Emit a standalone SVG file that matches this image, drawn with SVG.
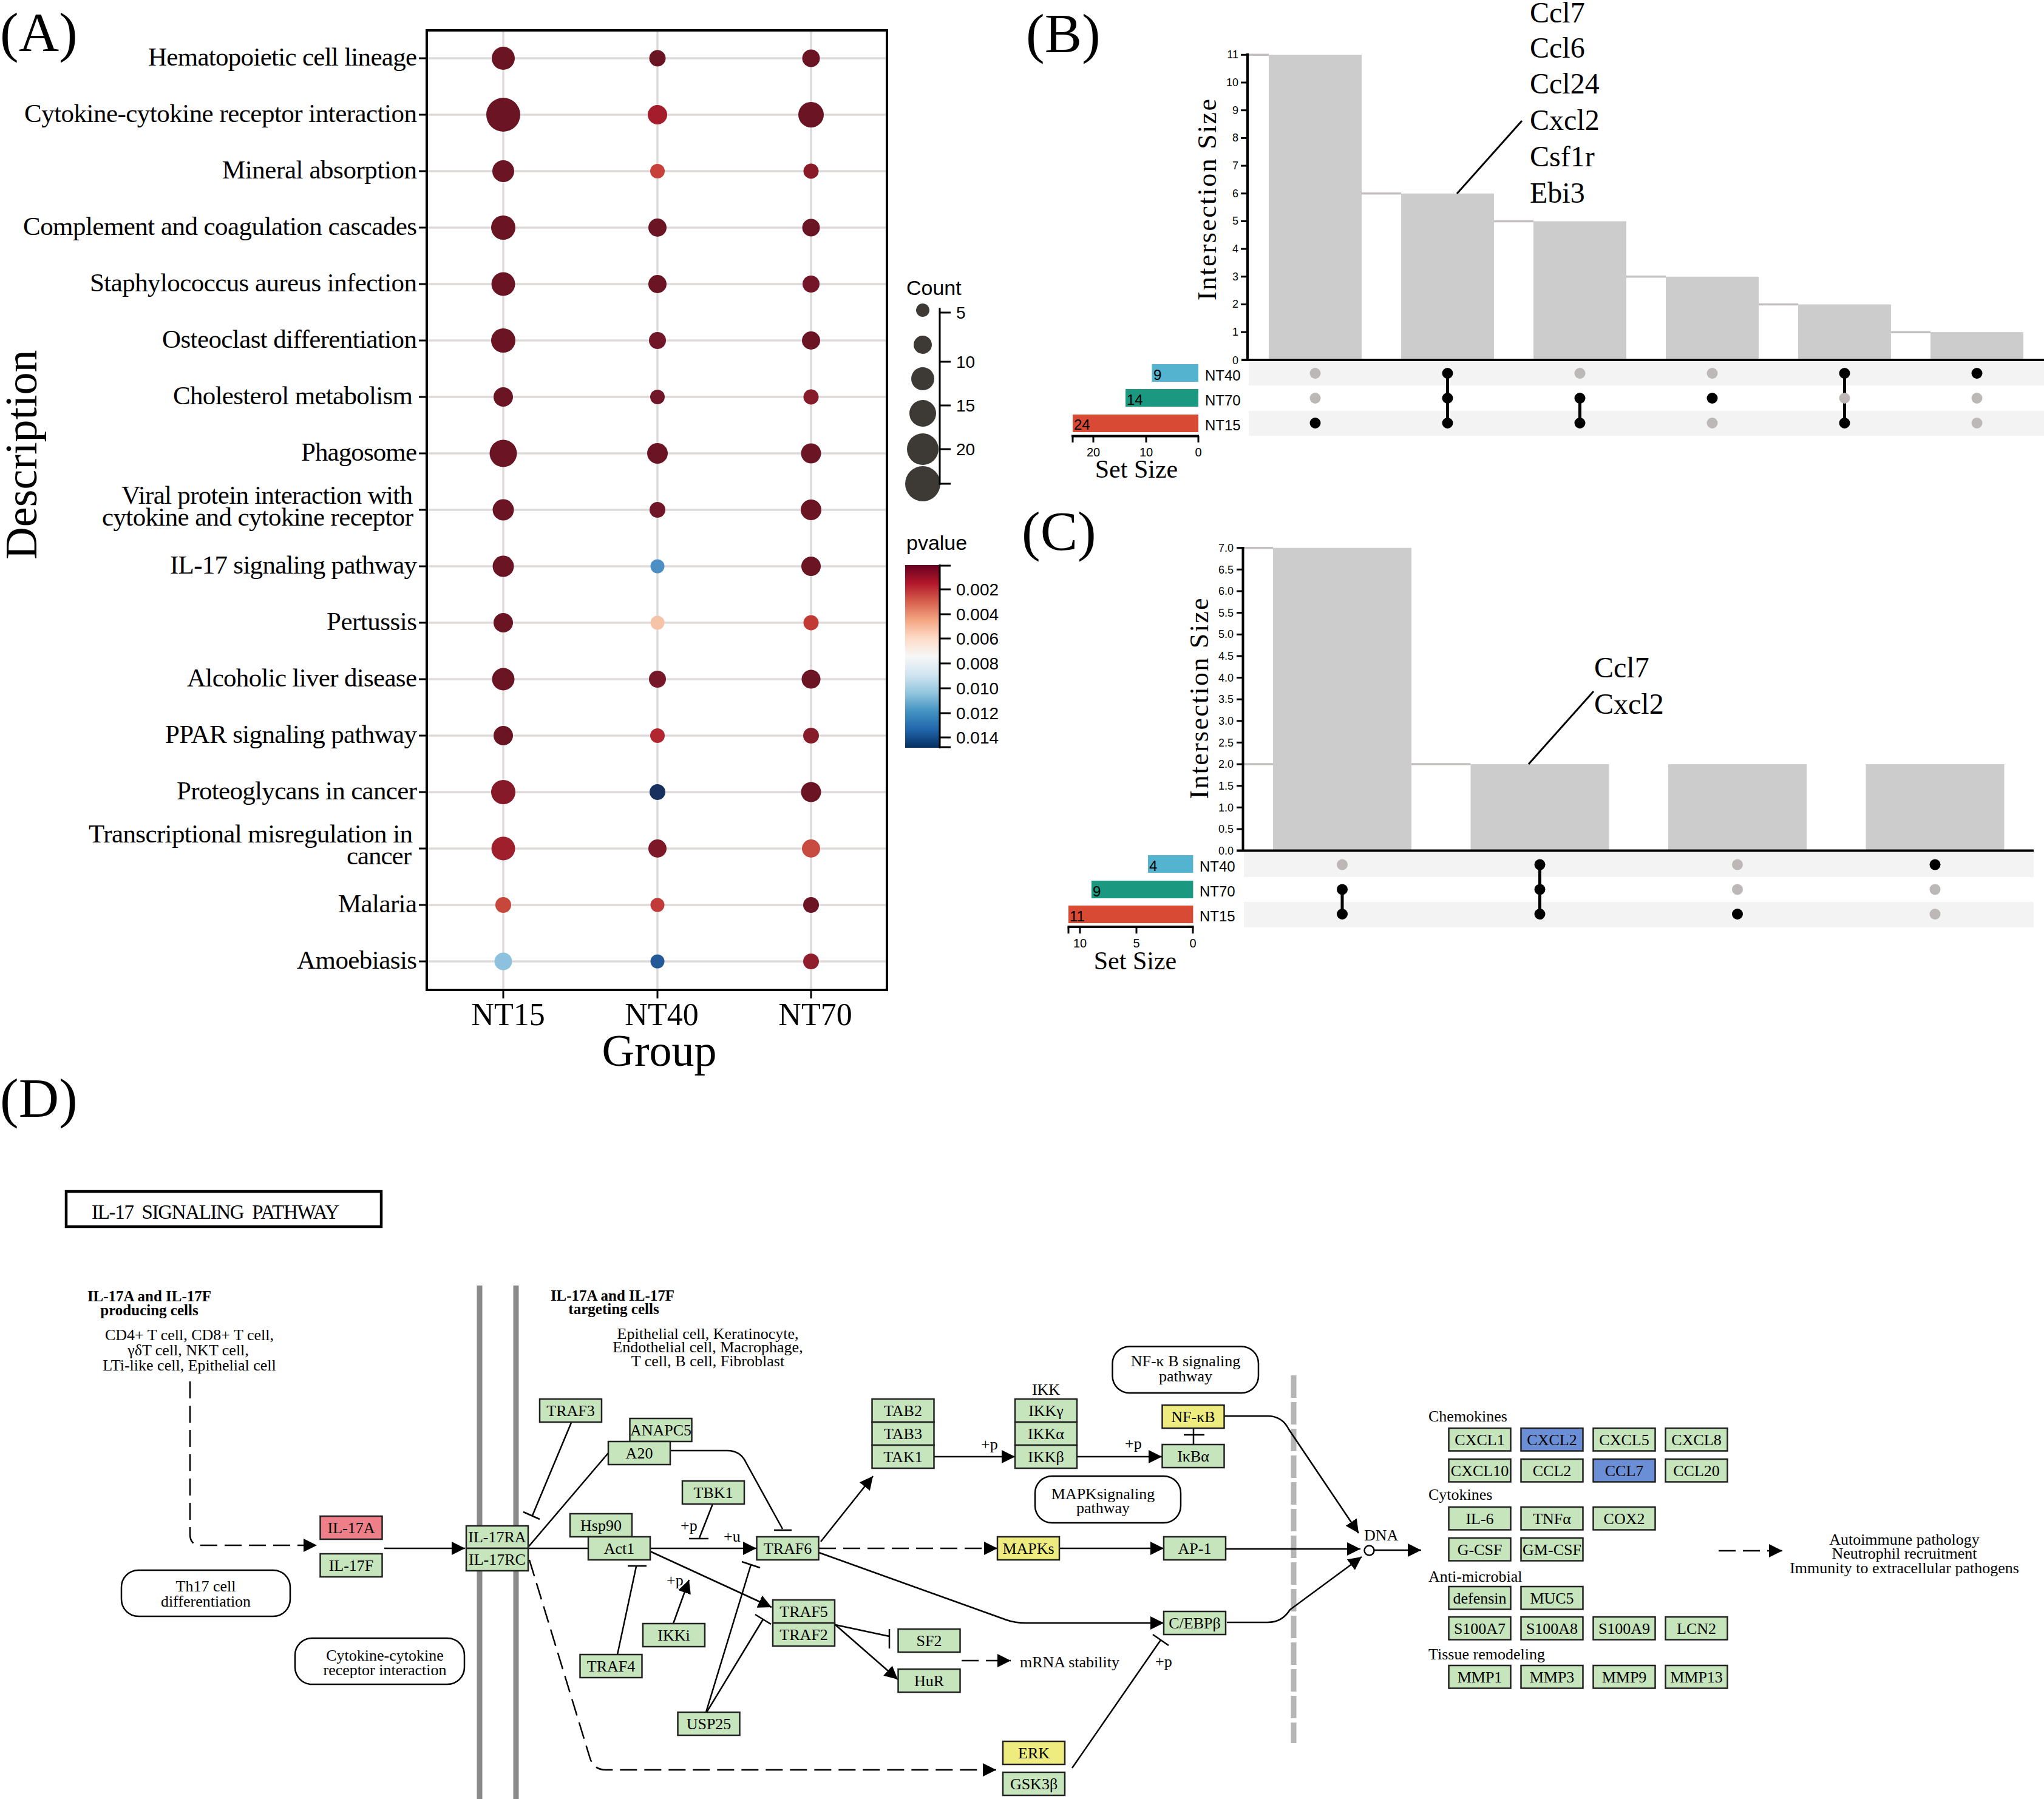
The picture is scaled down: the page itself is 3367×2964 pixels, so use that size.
<svg xmlns="http://www.w3.org/2000/svg" width="3367" height="2964" viewBox="0 0 3367 2964">
<defs>
<style>
.t{font-family:"Liberation Serif","Times New Roman",serif;fill:#000}
.s{font-family:"Liberation Sans",Arial,sans-serif;fill:#000}
.pl{font-family:"Liberation Serif","Times New Roman",serif;font-size:92px}
.rl{font-size:43px;text-anchor:end}
.gl{stroke:#dedada;stroke-width:3.5}
.tk{stroke:#000;stroke-width:3}
.ax{stroke:#000;stroke-width:4}
.bar{fill:#cccccc}
.seg{stroke:#c4c0c0;stroke-width:3.5}
.on{fill:#000}
.off{fill:#bdb8b8}
.cn{stroke:#000;stroke-width:5}
.stripe{fill:#f3f3f3}
.ytl{font-size:18px;text-anchor:end}
.nd rect{fill:#c6e5bc;stroke:#222;stroke-width:2.5}
.nd.y rect{fill:#eeec7e}
.nd.r rect{fill:#ee7f88}
.nd.b rect{fill:#6b8fd6}
.nd text{font-family:"Liberation Serif","Times New Roman",serif;font-size:26px;text-anchor:middle}
.rb rect{fill:#fff;stroke:#000;stroke-width:2.5}
.rb text{font-family:"Liberation Serif","Times New Roman",serif;font-size:26px;text-anchor:middle}
.ln{fill:none;stroke:#000;stroke-width:2.5}
.dash{stroke-dasharray:28 12}
.lab{font-family:"Liberation Serif","Times New Roman",serif;font-size:26px}
.bold{font-family:"Liberation Serif","Times New Roman",serif;font-size:25px;font-weight:bold;text-anchor:middle}
.mid{text-anchor:middle}
</style>
<marker id="ah" markerUnits="userSpaceOnUse" markerWidth="24" markerHeight="22" refX="22" refY="11" orient="auto" viewBox="0 0 24 22"><path d="M0,0 L22,11 L0,22 z" fill="#000"/></marker>
<linearGradient id="rdbu" x1="0" y1="0" x2="0" y2="1">
<stop offset="0" stop-color="#67001f"/><stop offset="0.1" stop-color="#b2182b"/><stop offset="0.2" stop-color="#d6604d"/><stop offset="0.3" stop-color="#f4a582"/><stop offset="0.4" stop-color="#fddbc7"/><stop offset="0.5" stop-color="#f7f7f7"/><stop offset="0.6" stop-color="#d1e5f0"/><stop offset="0.7" stop-color="#92c5de"/><stop offset="0.8" stop-color="#4393c3"/><stop offset="0.9" stop-color="#2166ac"/><stop offset="1" stop-color="#053061"/>
</linearGradient>
</defs>
<rect width="3367" height="2964" fill="#fff"/>

<!-- ================= PANEL A ================= -->
<g id="panelA">
<text class="pl" x="0" y="84">(A)</text>
<g id="A-grid">
<line class="gl" x1="829" y1="52" x2="829" y2="1629"/><line class="gl" x1="1083" y1="52" x2="1083" y2="1629"/><line class="gl" x1="1336" y1="52" x2="1336" y2="1629"/>
<line class="gl" x1="705" y1="96" x2="1459" y2="96"/><line class="gl" x1="705" y1="189" x2="1459" y2="189"/><line class="gl" x1="705" y1="282" x2="1459" y2="282"/><line class="gl" x1="705" y1="375" x2="1459" y2="375"/><line class="gl" x1="705" y1="468" x2="1459" y2="468"/><line class="gl" x1="705" y1="561" x2="1459" y2="561"/><line class="gl" x1="705" y1="654" x2="1459" y2="654"/><line class="gl" x1="705" y1="747" x2="1459" y2="747"/><line class="gl" x1="705" y1="840" x2="1459" y2="840"/><line class="gl" x1="705" y1="933" x2="1459" y2="933"/><line class="gl" x1="705" y1="1026" x2="1459" y2="1026"/><line class="gl" x1="705" y1="1119" x2="1459" y2="1119"/><line class="gl" x1="705" y1="1212" x2="1459" y2="1212"/><line class="gl" x1="705" y1="1305" x2="1459" y2="1305"/><line class="gl" x1="705" y1="1398" x2="1459" y2="1398"/><line class="gl" x1="705" y1="1491" x2="1459" y2="1491"/><line class="gl" x1="705" y1="1584" x2="1459" y2="1584"/>
</g>
<rect x="703" y="50" width="758" height="1581" fill="none" stroke="#000" stroke-width="4"/>
<g id="A-ticks" class="tk">
<line x1="690" y1="96" x2="703" y2="96"/><line x1="690" y1="189" x2="703" y2="189"/><line x1="690" y1="282" x2="703" y2="282"/><line x1="690" y1="375" x2="703" y2="375"/><line x1="690" y1="468" x2="703" y2="468"/><line x1="690" y1="561" x2="703" y2="561"/><line x1="690" y1="654" x2="703" y2="654"/><line x1="690" y1="747" x2="703" y2="747"/><line x1="690" y1="840" x2="703" y2="840"/><line x1="690" y1="933" x2="703" y2="933"/><line x1="690" y1="1026" x2="703" y2="1026"/><line x1="690" y1="1119" x2="703" y2="1119"/><line x1="690" y1="1212" x2="703" y2="1212"/><line x1="690" y1="1305" x2="703" y2="1305"/><line x1="690" y1="1398" x2="703" y2="1398"/><line x1="690" y1="1491" x2="703" y2="1491"/><line x1="690" y1="1584" x2="703" y2="1584"/>
<line x1="829" y1="1631" x2="829" y2="1645"/><line x1="1083" y1="1631" x2="1083" y2="1645"/><line x1="1336" y1="1631" x2="1336" y2="1645"/>
</g>
<g id="A-labels" class="t rl">
<text x="687" y="108" textLength="443">Hematopoietic cell lineage</text>
<text x="687" y="201" textLength="647">Cytokine-cytokine receptor interaction</text>
<text x="687" y="294" textLength="321">Mineral absorption</text>
<text x="687" y="387" textLength="649">Complement and coagulation cascades</text>
<text x="687" y="480" textLength="539">Staphylococcus aureus infection</text>
<text x="687" y="573" textLength="420">Osteoclast differentiation</text>
<text x="680" y="666" textLength="395">Cholesterol metabolism</text>
<text x="687" y="759" textLength="191">Phagosome</text>
<text x="680" y="830" textLength="480">Viral protein interaction with</text>
<text x="681" y="866" textLength="513">cytokine and cytokine receptor</text>
<text x="687" y="945" textLength="407">IL-17 signaling pathway</text>
<text x="687" y="1038" textLength="149">Pertussis</text>
<text x="687" y="1131" textLength="379">Alcoholic liver disease</text>
<text x="687" y="1224" textLength="415">PPAR signaling pathway</text>
<text x="687" y="1317" textLength="396">Proteoglycans in cancer</text>
<text x="680" y="1388" textLength="534">Transcriptional misregulation in</text>
<text x="678" y="1424" textLength="107">cancer</text>
<text x="687" y="1503" textLength="130">Malaria</text>
<text x="687" y="1596" textLength="198">Amoebiasis</text>
</g>
<g id="A-dots">
<circle cx="829" cy="96" r="19" fill="#6a1424"/><circle cx="1083" cy="96" r="13.5" fill="#6a1424"/><circle cx="1336" cy="96" r="14.5" fill="#6a1424"/>
<circle cx="829" cy="189" r="28" fill="#6a1424"/><circle cx="1083" cy="189" r="16" fill="#a51d2d"/><circle cx="1336" cy="189" r="21" fill="#6a1424"/>
<circle cx="829" cy="282" r="18" fill="#6a1424"/><circle cx="1083" cy="282" r="12" fill="#c8403a"/><circle cx="1336" cy="282" r="12.5" fill="#8b1a28"/>
<circle cx="829" cy="375" r="20" fill="#6a1424"/><circle cx="1083" cy="375" r="15" fill="#6a1424"/><circle cx="1336" cy="375" r="14.5" fill="#6a1424"/>
<circle cx="829" cy="468" r="19.5" fill="#6a1424"/><circle cx="1083" cy="468" r="15" fill="#6a1424"/><circle cx="1336" cy="468" r="14" fill="#741628"/>
<circle cx="829" cy="561" r="20" fill="#6a1424"/><circle cx="1083" cy="561" r="14" fill="#701628"/><circle cx="1336" cy="561" r="15" fill="#6a1424"/>
<circle cx="829" cy="654" r="16" fill="#6a1424"/><circle cx="1083" cy="654" r="12" fill="#701628"/><circle cx="1336" cy="654" r="12.5" fill="#861b2a"/>
<circle cx="829" cy="747" r="22.5" fill="#6a1424"/><circle cx="1083" cy="747" r="17" fill="#6a1424"/><circle cx="1336" cy="747" r="16.5" fill="#6a1424"/>
<circle cx="829" cy="840" r="17.5" fill="#6a1424"/><circle cx="1083" cy="840" r="13" fill="#701628"/><circle cx="1336" cy="840" r="17" fill="#6a1424"/>
<circle cx="829" cy="933" r="17.5" fill="#6a1424"/><circle cx="1083" cy="933" r="11.5" fill="#4b8fc5"/><circle cx="1336" cy="933" r="16" fill="#6a1424"/>
<circle cx="829" cy="1026" r="16" fill="#6a1424"/><circle cx="1083" cy="1026" r="11.5" fill="#f5c3a8"/><circle cx="1336" cy="1026" r="12.5" fill="#c23a36"/>
<circle cx="829" cy="1119" r="18.5" fill="#6a1424"/><circle cx="1083" cy="1119" r="14" fill="#751728"/><circle cx="1336" cy="1119" r="15.5" fill="#6a1424"/>
<circle cx="829" cy="1212" r="16" fill="#6a1424"/><circle cx="1083" cy="1212" r="12" fill="#b2262f"/><circle cx="1336" cy="1212" r="13" fill="#861b2a"/>
<circle cx="829" cy="1305" r="20" fill="#861a28"/><circle cx="1083" cy="1305" r="13" fill="#17315e"/><circle cx="1336" cy="1305" r="16.5" fill="#6a1424"/>
<circle cx="829" cy="1398" r="19.5" fill="#a01f2d"/><circle cx="1083" cy="1398" r="15" fill="#7d1828"/><circle cx="1336" cy="1398" r="15" fill="#c84b41"/>
<circle cx="829" cy="1491" r="13" fill="#c7473d"/><circle cx="1083" cy="1491" r="11.5" fill="#c13c39"/><circle cx="1336" cy="1491" r="13" fill="#6a1424"/>
<circle cx="829" cy="1584" r="14.5" fill="#8ec1dd"/><circle cx="1083" cy="1584" r="11.5" fill="#235a97"/><circle cx="1336" cy="1584" r="13" fill="#8f1d2b"/>
</g>
<g id="A-axis-text" class="t">
<text x="837" y="1689" font-size="52" class="mid">NT15</text>
<text x="1090" y="1689" font-size="52" class="mid">NT40</text>
<text x="1343" y="1689" font-size="52" class="mid">NT70</text>
<text x="1086" y="1756" font-size="74" class="mid">Group</text>
<text transform="translate(60,749) rotate(-90)" font-size="74" class="mid">Description</text>
</g>
<g id="A-legend-count">
<text class="s" x="1493" y="486" font-size="34">Count</text>
<circle cx="1520" cy="511" r="11" fill="#3d3935"/><circle cx="1520" cy="568" r="15" fill="#3d3935"/><circle cx="1520" cy="624" r="19" fill="#3d3935"/><circle cx="1520" cy="681" r="22" fill="#3d3935"/><circle cx="1520" cy="740" r="26" fill="#3d3935"/><circle cx="1520" cy="797" r="29" fill="#3d3935"/>
<line class="tk" x1="1548" y1="507" x2="1548" y2="799" stroke-width="4"/>
<g class="tk"><line x1="1548" y1="515" x2="1566" y2="515"/><line x1="1548" y1="596" x2="1566" y2="596"/><line x1="1548" y1="668" x2="1566" y2="668"/><line x1="1548" y1="740" x2="1566" y2="740"/><line x1="1548" y1="797" x2="1566" y2="797"/></g>
<g class="s" font-size="28"><text x="1575" y="525">5</text><text x="1575" y="606">10</text><text x="1575" y="678">15</text><text x="1575" y="750">20</text></g>
</g>
<g id="A-legend-p">
<text class="s" x="1493" y="906" font-size="34">pvalue</text>
<rect x="1491" y="931" width="56" height="301" fill="url(#rdbu)"/>
<line class="tk" x1="1548" y1="930" x2="1548" y2="1233" stroke-width="4"/>
<g class="tk"><line x1="1548" y1="932" x2="1566" y2="932"/><line x1="1548" y1="971" x2="1566" y2="971"/><line x1="1548" y1="1012" x2="1566" y2="1012"/><line x1="1548" y1="1052" x2="1566" y2="1052"/><line x1="1548" y1="1093" x2="1566" y2="1093"/><line x1="1548" y1="1134" x2="1566" y2="1134"/><line x1="1548" y1="1175" x2="1566" y2="1175"/><line x1="1548" y1="1215" x2="1566" y2="1215"/><line x1="1548" y1="1231" x2="1566" y2="1231"/></g>
<g class="s" font-size="28"><text x="1575" y="981">0.002</text><text x="1575" y="1022">0.004</text><text x="1575" y="1062">0.006</text><text x="1575" y="1103">0.008</text><text x="1575" y="1144">0.010</text><text x="1575" y="1185">0.012</text><text x="1575" y="1225">0.014</text></g>
</g>
</g>

<!-- ================= PANEL B ================= -->
<g id="panelB">
<text class="pl" x="1690" y="86">(B)</text>
<g id="B-segs" class="seg">
<line x1="2055" y1="90.3" x2="2090" y2="90.3"/><line x1="2243" y1="318.8" x2="2308" y2="318.8"/><line x1="2461" y1="364.5" x2="2526" y2="364.5"/><line x1="2679" y1="455.8" x2="2744" y2="455.8"/><line x1="2897" y1="501.5" x2="2962" y2="501.5"/><line x1="3115" y1="547.2" x2="3180" y2="547.2"/>
</g>
<g id="B-bars" class="bar">
<rect x="2090" y="90.3" width="153" height="502.6"/><rect x="2308" y="318.8" width="153" height="274.1"/><rect x="2526" y="364.5" width="153" height="228.4"/><rect x="2744" y="455.8" width="153" height="137.1"/><rect x="2962" y="501.5" width="153" height="91.4"/><rect x="3180" y="547.2" width="153" height="45.7"/>
</g>
<line class="ax" x1="2055" y1="88" x2="2055" y2="595" stroke-width="3.5"/>
<line class="ax" x1="2045" y1="593" x2="3367" y2="593" stroke-width="4.5"/>
<g class="tk" stroke-width="2.5"><line x1="2044" y1="547.2" x2="2055" y2="547.2"/><line x1="2044" y1="501.5" x2="2055" y2="501.5"/><line x1="2044" y1="455.8" x2="2055" y2="455.8"/><line x1="2044" y1="410.1" x2="2055" y2="410.1"/><line x1="2044" y1="364.5" x2="2055" y2="364.5"/><line x1="2044" y1="318.8" x2="2055" y2="318.8"/><line x1="2044" y1="273.1" x2="2055" y2="273.1"/><line x1="2044" y1="227.4" x2="2055" y2="227.4"/><line x1="2044" y1="181.7" x2="2055" y2="181.7"/><line x1="2044" y1="136" x2="2055" y2="136"/><line x1="2044" y1="90.3" x2="2055" y2="90.3"/></g>
<g class="s ytl"><text x="2040" y="600">0</text><text x="2040" y="553">1</text><text x="2040" y="507">2</text><text x="2040" y="462">3</text><text x="2040" y="416">4</text><text x="2040" y="370">5</text><text x="2040" y="325">6</text><text x="2040" y="279">7</text><text x="2040" y="233">8</text><text x="2040" y="188">9</text><text x="2040" y="142">10</text><text x="2040" y="96">11</text></g>
<text class="t mid" transform="translate(2003,329) rotate(-90)" font-size="44" textLength="332">Intersection Size</text>
<g id="B-annot" class="t" font-size="48">
<text x="2520" y="37">Ccl7</text><text x="2520" y="95">Ccl6</text><text x="2520" y="154">Ccl24</text><text x="2520" y="214">Cxcl2</text><text x="2520" y="274">Csf1r</text><text x="2520" y="334">Ebi3</text>
</g>
<line x1="2400" y1="319" x2="2507" y2="199" stroke="#000" stroke-width="3"/>
<rect class="stripe" x="2057" y="596" width="1310" height="39"/>
<rect class="stripe" x="2057" y="677" width="1310" height="41"/>
<g id="B-matrix">
<line class="cn" x1="2384.5" y1="615" x2="2384.5" y2="697"/><line class="cn" x1="2602.5" y1="656" x2="2602.5" y2="697"/><line class="cn" x1="3038.5" y1="615" x2="3038.5" y2="697"/>
<circle class="off" cx="2166.5" cy="615" r="9"/><circle class="off" cx="2166.5" cy="656" r="9"/><circle class="on" cx="2166.5" cy="697" r="9"/>
<circle class="on" cx="2384.5" cy="615" r="9"/><circle class="on" cx="2384.5" cy="656" r="9"/><circle class="on" cx="2384.5" cy="697" r="9"/>
<circle class="off" cx="2602.5" cy="615" r="9"/><circle class="on" cx="2602.5" cy="656" r="9"/><circle class="on" cx="2602.5" cy="697" r="9"/>
<circle class="off" cx="2820.5" cy="615" r="9"/><circle class="on" cx="2820.5" cy="656" r="9"/><circle class="off" cx="2820.5" cy="697" r="9"/>
<circle class="on" cx="3038.5" cy="615" r="9"/><circle class="off" cx="3038.5" cy="656" r="9"/><circle class="on" cx="3038.5" cy="697" r="9"/>
<circle class="on" cx="3256.5" cy="615" r="9"/><circle class="off" cx="3256.5" cy="656" r="9"/><circle class="off" cx="3256.5" cy="697" r="9"/>
</g>
<g id="B-setsize">
<rect x="1897.5" y="600" width="76.5" height="29" fill="#54b3cf"/>
<rect x="1854" y="641" width="120" height="29" fill="#1a9880"/>
<rect x="1767" y="683" width="207" height="29" fill="#d94a35"/>
<g class="s" font-size="24"><text x="1900" y="626">9</text><text x="1856" y="667">14</text><text x="1769" y="708">24</text>
<text x="1985" y="627">NT40</text><text x="1985" y="668">NT70</text><text x="1985" y="709">NT15</text></g>
<line class="ax" x1="1765" y1="718.5" x2="1975" y2="718.5" stroke-width="3"/>
<g class="tk" stroke-width="2.5"><line x1="1767" y1="718" x2="1767" y2="729"/><line x1="1801" y1="718" x2="1801" y2="729"/><line x1="1888" y1="718" x2="1888" y2="729"/><line x1="1974" y1="718" x2="1974" y2="729"/></g>
<g class="s mid" font-size="20"><text x="1801" y="752">20</text><text x="1888" y="752">10</text><text x="1974" y="752">0</text></g>
<text class="t mid" x="1872" y="787" font-size="42">Set Size</text>
</g>
</g>

<!-- ================= PANEL C ================= -->
<g id="panelC">
<text class="pl" x="1683" y="906">(C)</text>
<g class="seg"><line x1="2048" y1="902.7" x2="2097" y2="902.7"/><line x1="2048" y1="1259.1" x2="2422.5" y2="1259.1"/></g>
<g id="C-bars" class="bar">
<rect x="2097" y="902.7" width="228" height="498.9"/><rect x="2422.5" y="1259.1" width="228" height="142.5"/><rect x="2748" y="1259.1" width="228" height="142.5"/><rect x="3073.5" y="1259.1" width="228" height="142.5"/>
</g>
<line class="ax" x1="2047.5" y1="901" x2="2047.5" y2="1403" stroke-width="3.5"/>
<line class="ax" x1="2037" y1="1401.6" x2="3350" y2="1401.6" stroke-width="4.5"/>
<g class="tk" stroke-width="2.5"><line x1="2037" y1="1366" x2="2047.5" y2="1366"/><line x1="2037" y1="1330.3" x2="2047.5" y2="1330.3"/><line x1="2037" y1="1294.7" x2="2047.5" y2="1294.7"/><line x1="2037" y1="1259.1" x2="2047.5" y2="1259.1"/><line x1="2037" y1="1223.4" x2="2047.5" y2="1223.4"/><line x1="2037" y1="1187.8" x2="2047.5" y2="1187.8"/><line x1="2037" y1="1152.2" x2="2047.5" y2="1152.2"/><line x1="2037" y1="1116.5" x2="2047.5" y2="1116.5"/><line x1="2037" y1="1080.9" x2="2047.5" y2="1080.9"/><line x1="2037" y1="1045.3" x2="2047.5" y2="1045.3"/><line x1="2037" y1="1009.6" x2="2047.5" y2="1009.6"/><line x1="2037" y1="974" x2="2047.5" y2="974"/><line x1="2037" y1="938.3" x2="2047.5" y2="938.3"/><line x1="2037" y1="902.7" x2="2047.5" y2="902.7"/></g>
<g class="s ytl"><text x="2032" y="1408">0.0</text><text x="2032" y="1372">0.5</text><text x="2032" y="1337">1.0</text><text x="2032" y="1301">1.5</text><text x="2032" y="1265">2.0</text><text x="2032" y="1230">2.5</text><text x="2032" y="1194">3.0</text><text x="2032" y="1158">3.5</text><text x="2032" y="1123">4.0</text><text x="2032" y="1087">4.5</text><text x="2032" y="1051">5.0</text><text x="2032" y="1016">5.5</text><text x="2032" y="980">6.0</text><text x="2032" y="945">6.5</text><text x="2032" y="909">7.0</text></g>
<text class="t mid" transform="translate(1990,1151) rotate(-90)" font-size="44" textLength="331">Intersection Size</text>
<g class="t" font-size="48"><text x="2626" y="1116">Ccl7</text><text x="2626" y="1176">Cxcl2</text></g>
<line x1="2518" y1="1259" x2="2625" y2="1139" stroke="#000" stroke-width="3"/>
<rect class="stripe" x="2049" y="1404" width="1301" height="41"/>
<rect class="stripe" x="2049" y="1486" width="1301" height="42"/>
<g id="C-matrix">
<line class="cn" x1="2211" y1="1465.4" x2="2211" y2="1506"/><line class="cn" x1="2536.5" y1="1424.6" x2="2536.5" y2="1506"/>
<circle class="off" cx="2211" cy="1424.6" r="9"/><circle class="on" cx="2211" cy="1465.4" r="9"/><circle class="on" cx="2211" cy="1506" r="9"/>
<circle class="on" cx="2536.5" cy="1424.6" r="9"/><circle class="on" cx="2536.5" cy="1465.4" r="9"/><circle class="on" cx="2536.5" cy="1506" r="9"/>
<circle class="off" cx="2862" cy="1424.6" r="9"/><circle class="off" cx="2862" cy="1465.4" r="9"/><circle class="on" cx="2862" cy="1506" r="9"/>
<circle class="on" cx="3187.5" cy="1424.6" r="9"/><circle class="off" cx="3187.5" cy="1465.4" r="9"/><circle class="off" cx="3187.5" cy="1506" r="9"/>
</g>
<g id="C-setsize">
<rect x="1891" y="1409" width="74.4" height="29" fill="#54b3cf"/>
<rect x="1798" y="1451" width="167.4" height="29" fill="#1a9880"/>
<rect x="1760" y="1492" width="205.4" height="29" fill="#d94a35"/>
<g class="s" font-size="24"><text x="1893" y="1435">4</text><text x="1800" y="1477">9</text><text x="1762" y="1518">11</text>
<text x="1976" y="1436">NT40</text><text x="1976" y="1477">NT70</text><text x="1976" y="1518">NT15</text></g>
<line class="ax" x1="1758.5" y1="1527" x2="1966.5" y2="1527" stroke-width="3"/>
<g class="tk" stroke-width="2.5"><line x1="1760" y1="1527" x2="1760" y2="1538"/><line x1="1779" y1="1527" x2="1779" y2="1538"/><line x1="1872" y1="1527" x2="1872" y2="1538"/><line x1="1965" y1="1527" x2="1965" y2="1538"/></g>
<g class="s mid" font-size="20"><text x="1779" y="1561">10</text><text x="1872" y="1561">5</text><text x="1965" y="1561">0</text></g>
<text class="t mid" x="1870" y="1597" font-size="42">Set Size</text>
</g>
</g>

<!-- ================= PANEL D ================= -->
<g id="panelD">
<text class="pl" x="0" y="1840">(D)</text>
<g id="D-title">
<rect x="109" y="1963" width="519" height="58" fill="#fff" stroke="#000" stroke-width="4.5"/>
<text class="t" x="151" y="2008" font-size="33" textLength="408" style="white-space:pre">IL-17  SIGNALING  PATHWAY</text>
</g>
<g id="D-membrane" stroke="#8a8a8a" stroke-width="9">
<line x1="790" y1="2118" x2="790" y2="2964"/><line x1="850" y1="2118" x2="850" y2="2964"/>
</g>
<line id="D-nucleus" x1="2131" y1="2266" x2="2131" y2="2872" stroke="#b5b5b5" stroke-width="9" stroke-dasharray="37 7"/>
<g id="D-text">
<text class="bold" x="246" y="2144">IL-17A and IL-17F</text>
<text class="bold" x="246" y="2167">producing cells</text>
<text class="lab mid" x="312" y="2208">CD4+ T cell, CD8+ T cell,</text>
<text class="lab mid" x="310" y="2233">γδT cell, NKT cell,</text>
<text class="lab mid" x="312" y="2258">LTi-like cell, Epithelial cell</text>
<text class="bold" x="1009" y="2143">IL-17A and IL-17F</text>
<text class="bold" x="1011" y="2165">targeting cells</text>
<text class="lab mid" x="1166" y="2206">Epithelial cell, Keratinocyte,</text>
<text class="lab mid" x="1166" y="2228">Endothelial cell, Macrophage,</text>
<text class="lab mid" x="1166" y="2251">T cell, B cell, Fibroblast</text>
<text class="lab mid" x="1723" y="2298">IKK</text>
<text class="lab" x="1192" y="2540">+u</text>
<text class="lab" x="1121" y="2522">+p</text>
<text class="lab" x="1098" y="2612">+p</text>
<text class="lab" x="1616" y="2388">+p</text>
<text class="lab" x="1853" y="2387">+p</text>
<text class="lab" x="1903" y="2746">+p</text>
<text class="lab" x="1680" y="2747">mRNA stability</text>
<text class="lab" x="2247" y="2538" font-size="24">DNA</text>
<text class="lab" x="2353" y="2342">Chemokines</text>
<text class="lab" x="2353" y="2471">Cytokines</text>
<text class="lab" x="2353" y="2606">Anti-microbial</text>
<text class="lab" x="2353" y="2734">Tissue remodeling</text>
<text class="lab mid" x="3137" y="2545">Autoimmune pathology</text>
<text class="lab mid" x="3137" y="2568">Neutrophil recruitment</text>
<text class="lab mid" x="3137" y="2592">Immunity to extracellular pathogens</text>
</g>
<g id="D-roundboxes" class="rb">
<g id="rb-th17"><rect x="200" y="2587" width="278" height="76" rx="28"/><text x="339" y="2622">Th17 cell</text><text x="339" y="2647">differentiation</text></g>
<g id="rb-ccri"><rect x="486" y="2699" width="279" height="76" rx="28"/><text x="634" y="2736">Cytokine-cytokine</text><text x="634" y="2760">receptor interaction</text></g>
<g id="rb-nfkb"><rect x="1832.5" y="2218.5" width="240.5" height="76.5" rx="28"/><text x="1953" y="2251">NF-κ B signaling</text><text x="1953" y="2276">pathway</text></g>
<g id="rb-mapk"><rect x="1705" y="2432" width="240" height="77" rx="28"/><text x="1817" y="2470">MAPKsignaling</text><text x="1817" y="2493">pathway</text></g>
</g>
<g id="D-edges">
<path class="ln dash" d="M313,2276 L313,2528 Q313,2546 331,2546 L522,2546" marker-end="url(#ah)"/>
<path class="ln" d="M633,2551 L766,2551" marker-end="url(#ah)"/>
<path class="ln" d="M941,2344 L877,2497 M862,2491 L889,2503"/>
<path class="ln" d="M870,2549 L1002,2394"/>
<path class="ln" d="M870,2551 L969,2551"/>
<path class="ln" d="M1070,2551 L1246,2551" marker-end="url(#ah)"/>
<path class="ln" d="M1174,2478 L1152,2534 M1135,2535 L1167,2535"/>
<path class="ln" d="M1104,2390 L1198,2390 Q1220,2390 1229,2410 L1289,2519 M1275,2521 L1304,2521"/>
<path class="ln" d="M1352,2540 L1438,2432" marker-end="url(#ah)"/>
<path class="ln" d="M1538,2400 L1672,2400" marker-end="url(#ah)"/>
<path class="ln" d="M1773,2400 L1914,2400" marker-end="url(#ah)"/>
<path class="ln" d="M1966,2353 L1966,2380 M1950,2364 L1984,2364"/>
<path class="ln dash" d="M1349,2551 L1643,2551" marker-end="url(#ah)"/>
<path class="ln" d="M1745,2551 L1917,2551" marker-end="url(#ah)"/>
<path class="ln" d="M1349,2558 L1658,2669 Q1672,2674 1690,2674 L1917,2674" marker-end="url(#ah)"/>
<path class="ln" d="M1071,2556 L1271,2648" marker-end="url(#ah)"/>
<path class="ln" d="M1017,2726 L1048,2581 M1034,2580 L1065,2580"/>
<path class="ln" d="M1109,2675 L1135,2603" marker-end="url(#ah)"/>
<path class="ln" d="M1163,2821 L1237,2578 M1222,2573 L1252,2583"/>
<path class="ln" d="M1164,2821 L1257,2668 M1244,2660 L1270,2676"/>
<path class="ln" d="M1376,2677 L1465,2696 M1465,2684 L1465,2716"/>
<path class="ln" d="M1376,2677 L1479,2767" marker-end="url(#ah)"/>
<path class="ln dash" d="M1584,2736 L1665,2736" marker-end="url(#ah)"/>
<path class="ln dash" d="M872,2570 L972,2897 Q978,2916 998,2916 L1641,2916" marker-end="url(#ah)"/>
<path class="ln" d="M1766,2913 L1912,2702 M1899,2693 L1925,2711"/>
<path class="ln" d="M2017,2333 L2088,2333 Q2112,2333 2123,2355 L2238,2526" marker-end="url(#ah)"/>
<path class="ln" d="M2018,2552 L2241,2552" marker-end="url(#ah)"/>
<path class="ln" d="M2021,2673 L2088,2673 Q2112,2673 2125,2652 L2243,2565" marker-end="url(#ah)"/>
<path class="ln" d="M2264,2554 L2341,2554" marker-end="url(#ah)"/>
<path class="ln dash" d="M2831,2555 L2936,2555" marker-end="url(#ah)"/>
</g>
<circle id="D-dna" cx="2255.5" cy="2554.5" r="8" fill="#fff" stroke="#000" stroke-width="2.5"/>
<g id="D-nodes">
<g id="n-IL17A" class="nd r"><rect x="527.5" y="2498" width="102" height="38"/><text x="578.5" y="2526">IL-17A</text></g>
<g id="n-IL17F" class="nd"><rect x="527.5" y="2560" width="102" height="38"/><text x="578.5" y="2588">IL-17F</text></g>
<g id="n-IL17RA" class="nd"><rect x="768" y="2514" width="102" height="37"/><text x="819" y="2541">IL-17RA</text></g>
<g id="n-IL17RC" class="nd"><rect x="768" y="2551" width="102" height="37"/><text x="819" y="2578">IL-17RC</text></g>
<g id="n-TRAF3" class="nd"><rect x="889" y="2305" width="102" height="38"/><text x="940" y="2333">TRAF3</text></g>
<g id="n-ANAPC5" class="nd"><rect x="1037.5" y="2337" width="102" height="38"/><text x="1088.5" y="2365">ANAPC5</text></g>
<g id="n-A20" class="nd"><rect x="1002" y="2375" width="102" height="38"/><text x="1053" y="2403">A20</text></g>
<g id="n-TBK1" class="nd"><rect x="1124" y="2440" width="102" height="38"/><text x="1175" y="2468">TBK1</text></g>
<g id="n-Hsp90" class="nd"><rect x="939" y="2494" width="102" height="38"/><text x="990" y="2522">Hsp90</text></g>
<g id="n-Act1" class="nd"><rect x="969" y="2532" width="102" height="38"/><text x="1020" y="2560">Act1</text></g>
<g id="n-TRAF6" class="nd"><rect x="1246.5" y="2532" width="102" height="38"/><text x="1297.5" y="2560">TRAF6</text></g>
<g id="n-TAB2" class="nd"><rect x="1436.5" y="2305" width="102" height="38"/><text x="1487.5" y="2333">TAB2</text></g>
<g id="n-TAB3" class="nd"><rect x="1436.5" y="2343" width="102" height="38"/><text x="1487.5" y="2371">TAB3</text></g>
<g id="n-TAK1" class="nd"><rect x="1436.5" y="2381" width="102" height="38"/><text x="1487.5" y="2409">TAK1</text></g>
<g id="n-IKKg" class="nd"><rect x="1672" y="2305" width="102" height="38"/><text x="1723" y="2333">IKKγ</text></g>
<g id="n-IKKa" class="nd"><rect x="1672" y="2343" width="102" height="38"/><text x="1723" y="2371">IKKα</text></g>
<g id="n-IKKb" class="nd"><rect x="1672" y="2381" width="102" height="38"/><text x="1723" y="2409">IKKβ</text></g>
<g id="n-NFkB" class="nd y"><rect x="1914.5" y="2315" width="102" height="38"/><text x="1965.5" y="2343">NF-κB</text></g>
<g id="n-IkBa" class="nd"><rect x="1914.5" y="2380" width="102" height="38"/><text x="1965.5" y="2408">IκBα</text></g>
<g id="n-MAPKs" class="nd y"><rect x="1643" y="2532" width="102" height="38"/><text x="1694" y="2560">MAPKs</text></g>
<g id="n-AP1" class="nd"><rect x="1917" y="2532" width="102" height="38"/><text x="1968" y="2560">AP-1</text></g>
<g id="n-TRAF5" class="nd"><rect x="1273" y="2636" width="102" height="38"/><text x="1324" y="2664">TRAF5</text></g>
<g id="n-TRAF2" class="nd"><rect x="1273" y="2674" width="102" height="38"/><text x="1324" y="2702">TRAF2</text></g>
<g id="n-SF2" class="nd"><rect x="1479.5" y="2684" width="102" height="38"/><text x="1530.5" y="2712">SF2</text></g>
<g id="n-HuR" class="nd"><rect x="1479.5" y="2750" width="102" height="38"/><text x="1530.5" y="2778">HuR</text></g>
<g id="n-CEBPb" class="nd"><rect x="1917" y="2655" width="102" height="38"/><text x="1968" y="2683">C/EBPβ</text></g>
<g id="n-TRAF4" class="nd"><rect x="955.5" y="2726" width="102" height="38"/><text x="1006.5" y="2754">TRAF4</text></g>
<g id="n-IKKi" class="nd"><rect x="1059" y="2675" width="102" height="38"/><text x="1110" y="2703">IKKi</text></g>
<g id="n-USP25" class="nd"><rect x="1116.5" y="2821" width="102" height="38"/><text x="1167.5" y="2849">USP25</text></g>
<g id="n-ERK" class="nd y"><rect x="1652" y="2869" width="102" height="38"/><text x="1703" y="2897">ERK</text></g>
<g id="n-GSK3b" class="nd"><rect x="1652" y="2920" width="102" height="38"/><text x="1703" y="2948">GSK3β</text></g>
<g id="n-CXCL1" class="nd"><rect x="2386.5" y="2353" width="102" height="37.5"/><text x="2437.5" y="2381">CXCL1</text></g>
<g id="n-CXCL2" class="nd b"><rect x="2505.5" y="2353" width="102" height="37.5"/><text x="2556.5" y="2381">CXCL2</text></g>
<g id="n-CXCL5" class="nd"><rect x="2624.5" y="2353" width="102" height="37.5"/><text x="2675.5" y="2381">CXCL5</text></g>
<g id="n-CXCL8" class="nd"><rect x="2743.5" y="2353" width="102" height="37.5"/><text x="2794.5" y="2381">CXCL8</text></g>
<g id="n-CXCL10" class="nd"><rect x="2386.5" y="2404" width="102" height="37.5"/><text x="2437.5" y="2432">CXCL10</text></g>
<g id="n-CCL2" class="nd"><rect x="2505.5" y="2404" width="102" height="37.5"/><text x="2556.5" y="2432">CCL2</text></g>
<g id="n-CCL7" class="nd b"><rect x="2624.5" y="2404" width="102" height="37.5"/><text x="2675.5" y="2432">CCL7</text></g>
<g id="n-CCL20" class="nd"><rect x="2743.5" y="2404" width="102" height="37.5"/><text x="2794.5" y="2432">CCL20</text></g>
<g id="n-IL6" class="nd"><rect x="2386.5" y="2483" width="102" height="37.5"/><text x="2437.5" y="2511">IL-6</text></g>
<g id="n-TNFa" class="nd"><rect x="2505.5" y="2483" width="102" height="37.5"/><text x="2556.5" y="2511">TNFα</text></g>
<g id="n-COX2" class="nd"><rect x="2624.5" y="2483" width="102" height="37.5"/><text x="2675.5" y="2511">COX2</text></g>
<g id="n-GCSF" class="nd"><rect x="2386.5" y="2534" width="102" height="37.5"/><text x="2437.5" y="2562">G-CSF</text></g>
<g id="n-GMCSF" class="nd"><rect x="2505.5" y="2534" width="102" height="37.5"/><text x="2556.5" y="2562">GM-CSF</text></g>
<g id="n-defensin" class="nd"><rect x="2386.5" y="2614" width="102" height="37.5"/><text x="2437.5" y="2642">defensin</text></g>
<g id="n-MUC5" class="nd"><rect x="2505.5" y="2614" width="102" height="37.5"/><text x="2556.5" y="2642">MUC5</text></g>
<g id="n-S100A7" class="nd"><rect x="2386.5" y="2664" width="102" height="37.5"/><text x="2437.5" y="2692">S100A7</text></g>
<g id="n-S100A8" class="nd"><rect x="2505.5" y="2664" width="102" height="37.5"/><text x="2556.5" y="2692">S100A8</text></g>
<g id="n-S100A9" class="nd"><rect x="2624.5" y="2664" width="102" height="37.5"/><text x="2675.5" y="2692">S100A9</text></g>
<g id="n-LCN2" class="nd"><rect x="2743.5" y="2664" width="102" height="37.5"/><text x="2794.5" y="2692">LCN2</text></g>
<g id="n-MMP1" class="nd"><rect x="2386.5" y="2744" width="102" height="37.5"/><text x="2437.5" y="2772">MMP1</text></g>
<g id="n-MMP3" class="nd"><rect x="2505.5" y="2744" width="102" height="37.5"/><text x="2556.5" y="2772">MMP3</text></g>
<g id="n-MMP9" class="nd"><rect x="2624.5" y="2744" width="102" height="37.5"/><text x="2675.5" y="2772">MMP9</text></g>
<g id="n-MMP13" class="nd"><rect x="2743.5" y="2744" width="102" height="37.5"/><text x="2794.5" y="2772">MMP13</text></g>
</g>
</g>
</svg>
